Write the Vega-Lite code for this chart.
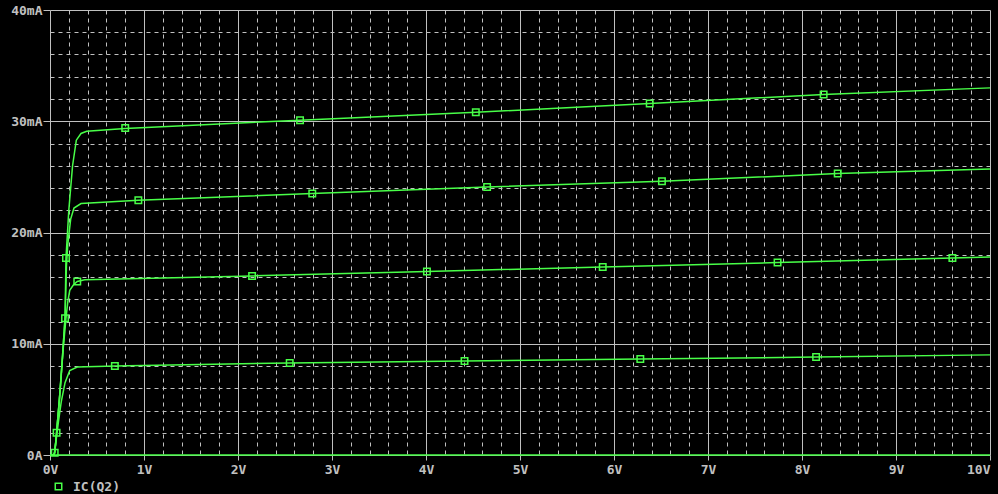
{
  "$schema": "https://vega.github.io/schema/vega-lite/v6.json",
  "width": 940,
  "height": 445,
  "autosize": {"type": "none"},
  "padding": {"left": 50, "top": 10, "right": 8, "bottom": 39},
  "background": "#000000",
  "config": {"view": {"stroke": null}, "font": "DejaVu Sans Mono"},
  "datasets": {
    "curves": [
      {"c": 0, "v": 0, "i": 0}, {"c": 0, "v": 10, "i": 0},
      {"c": 1, "v": 0, "i": 0}, {"c": 1, "v": 0.04, "i": 0}, {"c": 1, "v": 0.05, "i": 0.2}, {"c": 1, "v": 0.07, "i": 2}, {"c": 1, "v": 0.1, "i": 5}, {"c": 1, "v": 0.13, "i": 8.5}, {"c": 1, "v": 0.16, "i": 12.3}, {"c": 1, "v": 0.17, "i": 17.7}, {"c": 1, "v": 0.2, "i": 22}, {"c": 1, "v": 0.24, "i": 26}, {"c": 1, "v": 0.28, "i": 28.3}, {"c": 1, "v": 0.33, "i": 28.9}, {"c": 1, "v": 0.39, "i": 29.1}, {"c": 1, "v": 0.8, "i": 29.35}, {"c": 1, "v": 2.66, "i": 30.1}, {"c": 1, "v": 4.53, "i": 30.8}, {"c": 1, "v": 6.38, "i": 31.6}, {"c": 1, "v": 8.23, "i": 32.4}, {"c": 1, "v": 10, "i": 33.0},
      {"c": 2, "v": 0, "i": 0}, {"c": 2, "v": 0.04, "i": 0}, {"c": 2, "v": 0.05, "i": 0.2}, {"c": 2, "v": 0.07, "i": 2}, {"c": 2, "v": 0.1, "i": 5}, {"c": 2, "v": 0.13, "i": 8.5}, {"c": 2, "v": 0.16, "i": 12.3}, {"c": 2, "v": 0.175, "i": 17}, {"c": 2, "v": 0.19, "i": 19}, {"c": 2, "v": 0.22, "i": 21.2}, {"c": 2, "v": 0.255, "i": 22.2}, {"c": 2, "v": 0.33, "i": 22.6}, {"c": 2, "v": 0.94, "i": 22.9}, {"c": 2, "v": 2.79, "i": 23.5}, {"c": 2, "v": 4.65, "i": 24.1}, {"c": 2, "v": 6.51, "i": 24.6}, {"c": 2, "v": 8.38, "i": 25.3}, {"c": 2, "v": 10, "i": 25.7},
      {"c": 3, "v": 0, "i": 0}, {"c": 3, "v": 0.04, "i": 0}, {"c": 3, "v": 0.055, "i": 0.5}, {"c": 3, "v": 0.08, "i": 3}, {"c": 3, "v": 0.11, "i": 6}, {"c": 3, "v": 0.14, "i": 9.5}, {"c": 3, "v": 0.17, "i": 12.3}, {"c": 3, "v": 0.19, "i": 13.8}, {"c": 3, "v": 0.21, "i": 14.8}, {"c": 3, "v": 0.25, "i": 15.3}, {"c": 3, "v": 0.29, "i": 15.6}, {"c": 3, "v": 0.37, "i": 15.75}, {"c": 3, "v": 2.15, "i": 16.1}, {"c": 3, "v": 4.01, "i": 16.5}, {"c": 3, "v": 5.88, "i": 16.9}, {"c": 3, "v": 7.74, "i": 17.3}, {"c": 3, "v": 9.6, "i": 17.7}, {"c": 3, "v": 10, "i": 17.8},
      {"c": 4, "v": 0, "i": 0}, {"c": 4, "v": 0.045, "i": 0}, {"c": 4, "v": 0.06, "i": 1}, {"c": 4, "v": 0.09, "i": 3}, {"c": 4, "v": 0.12, "i": 4.8}, {"c": 4, "v": 0.16, "i": 6.5}, {"c": 4, "v": 0.21, "i": 7.6}, {"c": 4, "v": 0.29, "i": 7.9}, {"c": 4, "v": 0.69, "i": 8.0}, {"c": 4, "v": 2.55, "i": 8.27}, {"c": 4, "v": 4.41, "i": 8.45}, {"c": 4, "v": 6.28, "i": 8.63}, {"c": 4, "v": 8.15, "i": 8.8}, {"c": 4, "v": 10, "i": 9.0}
    ],
    "markers": [
      {"v": 0.8, "i": 29.4}, {"v": 2.66, "i": 30.1}, {"v": 4.53, "i": 30.8}, {"v": 6.38, "i": 31.6}, {"v": 8.23, "i": 32.4},
      {"v": 0.94, "i": 22.9}, {"v": 2.79, "i": 23.5}, {"v": 4.65, "i": 24.1}, {"v": 6.51, "i": 24.6}, {"v": 8.38, "i": 25.3},
      {"v": 0.29, "i": 15.6}, {"v": 2.15, "i": 16.1}, {"v": 4.01, "i": 16.5}, {"v": 5.88, "i": 16.9}, {"v": 7.74, "i": 17.3}, {"v": 9.6, "i": 17.7},
      {"v": 0.69, "i": 8.0}, {"v": 2.55, "i": 8.27}, {"v": 4.41, "i": 8.45}, {"v": 6.28, "i": 8.63}, {"v": 8.15, "i": 8.8},
      {"v": 0.05, "i": 0.2}, {"v": 0.07, "i": 2.0}, {"v": 0.16, "i": 12.3}, {"v": 0.17, "i": 17.7}
    ]
  },
  "layer": [
    {
      "data": {"name": "curves"},
      "mark": {"type": "line", "color": "#48ff48", "strokeWidth": 1.5},
      "encoding": {
        "x": {
          "field": "v", "type": "quantitative",
          "scale": {"domain": [0, 10], "nice": false, "zero": false},
          "axis": {
            "orient": "bottom", "title": null, "labels": false, "ticks": false, "domain": false,
            "grid": true, "gridColor": "#c0c0c0", "gridDash": [4, 4], "gridWidth": 1, "gridOpacity": 1,
            "values": [0.2, 0.4, 0.6, 0.8, 1.2, 1.4, 1.6, 1.8, 2.2, 2.4, 2.6, 2.8, 3.2, 3.4, 3.6, 3.8, 4.2, 4.4, 4.6, 4.8, 5.2, 5.4, 5.6, 5.8, 6.2, 6.4, 6.6, 6.8, 7.2, 7.4, 7.6, 7.8, 8.2, 8.4, 8.6, 8.8, 9.2, 9.4, 9.6, 9.8]
          }
        },
        "y": {
          "field": "i", "type": "quantitative",
          "scale": {"domain": [0, 40], "nice": false},
          "axis": {
            "orient": "left", "title": null, "labels": false, "ticks": false, "domain": false,
            "grid": true, "gridColor": "#c0c0c0", "gridDash": [4, 4], "gridWidth": 1, "gridOpacity": 1,
            "values": [2, 4, 6, 8, 12, 14, 16, 18, 22, 24, 26, 28, 32, 34, 36, 38]
          }
        },
        "detail": {"field": "c", "type": "nominal"}
      }
    },
    {
      "data": {"name": "markers"},
      "mark": {"type": "point", "shape": "square", "filled": false, "size": 42, "strokeWidth": 1.5, "opacity": 1},
      "encoding": {
        "x": {
          "field": "v", "type": "quantitative",
          "axis": {
            "orient": "bottom", "title": null, "values": [0, 1, 2, 3, 4, 5, 6, 7, 8, 9, 10],
            "grid": true, "gridColor": "#c0c0c0", "gridWidth": 1, "gridOpacity": 1, "domain": false,
            "ticks": true, "tickSize": 5, "tickColor": "#c0c0c0", "tickWidth": 1,
            "labelExpr": "datum.value + 'V'", "labelFlush": false,
            "labelAlign": {"condition": {"test": "datum.value == 10", "value": "right"}, "value": "center"},
            "labelFont": "DejaVu Sans Mono", "labelFontSize": 13, "labelFontWeight": "bold",
            "labelColor": "#c0c0c0", "labelPadding": 3, "labelOverlap": false
          }
        },
        "y": {
          "field": "i", "type": "quantitative",
          "axis": {
            "orient": "left", "title": null, "values": [0, 10, 20, 30, 40],
            "grid": true, "gridColor": "#c0c0c0", "gridWidth": 1, "gridOpacity": 1, "domain": false,
            "ticks": true, "tickSize": 7, "tickColor": "#c0c0c0", "tickWidth": 1,
            "labelExpr": "datum.value == 0 ? '0A' : datum.value + 'mA'",
            "labelFont": "DejaVu Sans Mono", "labelFontSize": 13, "labelFontWeight": "bold",
            "labelColor": "#c0c0c0", "labelPadding": 1, "labelOverlap": false, "labelFlush": false
          }
        },
        "color": {
          "datum": "IC(Q2)",
          "scale": {"range": ["#48ff48"]},
          "legend": {
            "orient": "none", "legendX": 2, "legendY": 470, "title": null, "padding": 0,
            "symbolType": "square", "symbolSize": 42, "symbolStrokeWidth": 1.5, "symbolFillColor": "transparent",
            "labelFont": "DejaVu Sans Mono", "labelFontSize": 13, "labelFontWeight": "bold",
            "labelColor": "#c0c0c0", "labelOffset": 8
          }
        }
      }
    }
  ],
  "resolve": {"axis": {"x": "independent", "y": "independent"}}
}
